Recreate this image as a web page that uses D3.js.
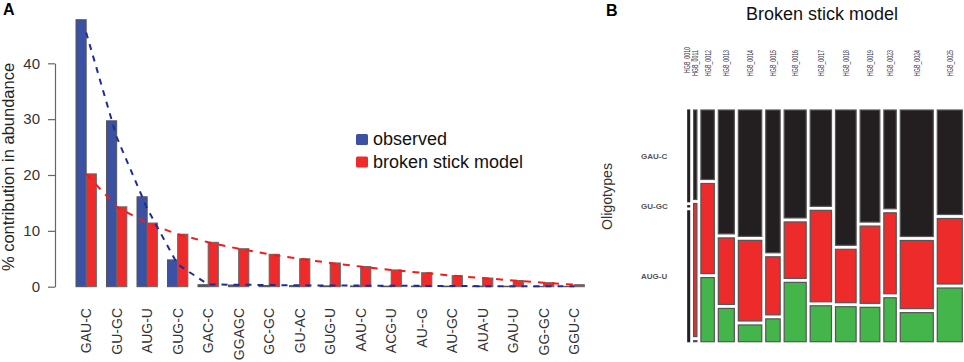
<!DOCTYPE html>
<html lang="en">
<head>
<meta charset="utf-8">
<title>Broken stick model</title>
<script src="https://cdn.jsdelivr.net/npm/d3@7"></script>
<style>
  body { margin: 0; background: #fff; }
  svg { display: block; font-family: "Liberation Sans", Arial, sans-serif; }
</style>
</head>
<body>
<script>
// ---- panel A data ----
var categories = ["GAU-C", "GU-GC", "AUG-U", "GUG-C", "GAC-C", "GGAGC", "GC-GC", "GU-AC", "GUG-U",
                  "AAU-C", "ACG-U", "AU--G", "AU-GC", "AUA-U", "GAU-U", "GG-GC", "GGU-C"];
var observed = [47.8, 29.7, 16.1, 4.8, 0.35, 0.3, 0.2, 0.2, 0.15, 0.12, 0.1, 0.1, 0.1, 0.1, 0.08, 0.06, 0.05];
var brokenStick = [20.2, 14.3, 11.4, 9.4, 7.95, 6.8, 5.8, 5.0, 4.25, 3.6, 3.0, 2.5, 1.98, 1.55, 1.12, 0.72, 0.36];
var observedTrend = [45.5, 26.8, 14.0, 4.0, 0.4, 0.35, 0.3, 0.25, 0.2, 0.2, 0.15, 0.15, 0.12, 0.1, 0.1, 0.1, 0.1];
var yTicks = [0, 10, 20, 30, 40];
var seriesNames = ["observed", "broken stick model"];

// ---- panel B data ----
var samples = ["HGB_0010", "HGB_0011", "HGB_0012", "HGB_0013", "HGB_0014", "HGB_0015", "HGB_0016",
               "HGB_0017", "HGB_0018", "HGB_0019", "HGB_0023", "HGB_0024", "HGB_0025"];
var sampleSize = [1.8, 3.3, 13.4, 16, 23.4, 14.4, 22, 21.3, 20.6, 19.7, 12.4, 33, 25];
var oligotypes = ["GAU-C", "GU-GC", "AUG-U"];
var shareGAUC = [0.41, 0.40, 0.31, 0.551, 0.566, 0.644, 0.484, 0.432, 0.603, 0.502, 0.443, 0.566, 0.469];
var shareGUGC = [0.005, 0.595, 0.402, 0.296, 0.361, 0.262, 0.253, 0.41, 0.238, 0.346, 0.363, 0.305, 0.294];
var shareAUGU = [0.585, 0.005, 0.286, 0.148, 0.075, 0.103, 0.266, 0.161, 0.156, 0.154, 0.197, 0.13, 0.241];

var w = 964, h = 362;
var blue = "#3b51a3", red = "#ee2a2a";

var svg = d3.select("body").append("svg")
  .attr("width", w)
  .attr("height", h);

// ================= panel A =================
var yScale = d3.scaleLinear().domain([0, 40]).range([286.7, 63.3]);

var xGroup = d3.scaleBand()
  .domain(categories)
  .range([76, 76 + 17 * 30.5 - 10.17])
  .paddingInner(1 / 3)
  .paddingOuter(0);

var xSeries = d3.scaleBand()
  .domain(seriesNames)
  .range([0, xGroup.bandwidth()]);

var mid = function(c) { return xGroup(c) + xGroup.bandwidth() / 2; };

svg.append("text")
  .attr("x", 3).attr("y", 15)
  .attr("font-size", 16).attr("font-weight", "bold")
  .text("A");

// y axis
var yAxis = d3.axisLeft(yScale).tickValues(yTicks).tickSize(7).tickSizeOuter(0).tickPadding(8);
var gy = svg.append("g")
  .attr("transform", "translate(55,0)")
  .call(yAxis);
gy.select(".domain").attr("stroke", "#666").attr("stroke-width", 1.2);
gy.selectAll(".tick line").attr("stroke", "#666").attr("stroke-width", 1.2);
gy.selectAll(".tick text").attr("font-size", 15).attr("fill", "#333")
  .attr("font-family", "Liberation Sans, Arial, sans-serif");

svg.append("text")
  .attr("transform", "translate(14,167) rotate(-90)")
  .attr("text-anchor", "middle")
  .attr("font-size", 16.5)
  .attr("fill", "#222")
  .text("% contribution in abundance");

// bars
var groups = svg.selectAll("g.grp")
  .data(categories)
  .enter()
  .append("g")
  .attr("class", "grp")
  .attr("transform", function(c) { return "translate(" + xGroup(c) + ",0)"; });

groups.append("rect")
  .attr("x", xSeries("observed"))
  .attr("width", xSeries.bandwidth())
  .attr("y", function(c, i) { return yScale(observed[i]); })
  .attr("height", function(c, i) { return yScale(0) - yScale(observed[i]); })
  .attr("fill", blue)
  .attr("stroke", "#555").attr("stroke-width", 1);

groups.append("rect")
  .attr("x", xSeries("broken stick model"))
  .attr("width", xSeries.bandwidth())
  .attr("y", function(c, i) { return yScale(brokenStick[i]); })
  .attr("height", function(c, i) { return yScale(0) - yScale(brokenStick[i]); })
  .attr("fill", red)
  .attr("stroke", "#666").attr("stroke-width", 1);

// dashed lines
var line = function(vals) {
  return d3.line()
    .x(function(d, i) { return mid(categories[i]); })
    .y(function(d) { return yScale(d); })(vals);
};
svg.append("path")
  .attr("d", line(brokenStick))
  .attr("fill", "none").attr("stroke", "#f01c1c")
  .attr("stroke-width", 2).attr("stroke-dasharray", "7,7");
svg.append("path")
  .attr("d", line(observedTrend))
  .attr("fill", "none").attr("stroke", "#1f2d98")
  .attr("stroke-width", 2).attr("stroke-dasharray", "6,6");

// x labels
svg.selectAll("text.xlab")
  .data(categories)
  .enter()
  .append("text")
  .attr("class", "xlab")
  .attr("transform", function(c) { return "translate(" + mid(c) + ",308) rotate(-90)"; })
  .attr("text-anchor", "end")
  .attr("dy", "0.35em")
  .attr("font-size", 14)
  .attr("fill", "#333")
  .text(function(c) { return c; });

// legend
var legend = svg.selectAll("g.leg")
  .data(seriesNames)
  .enter()
  .append("g")
  .attr("class", "leg")
  .attr("transform", function(d, i) { return "translate(356," + (134 + i * 22.5) + ")"; });
legend.append("rect")
  .attr("width", 12).attr("height", 11).attr("rx", 1.5)
  .attr("fill", function(d, i) { return i === 0 ? blue : red; });
legend.append("text")
  .attr("x", 17).attr("y", 11)
  .attr("font-size", 18)
  .attr("fill", "#111")
  .text(function(d) { return d; });

// ================= panel B =================
svg.append("text")
  .attr("x", 606).attr("y", 16)
  .attr("font-size", 16).attr("font-weight", "bold")
  .text("B");

svg.append("text")
  .attr("x", 822).attr("y", 20)
  .attr("text-anchor", "middle")
  .attr("font-size", 18)
  .attr("fill", "#111")
  .text("Broken stick model");

svg.append("text")
  .attr("transform", "translate(612,196.5) rotate(-90)")
  .attr("text-anchor", "middle")
  .attr("font-size", 14.2)
  .attr("fill", "#333")
  .text("Oligotypes");

var gap = 4;
var shares = [shareGAUC, shareGUGC, shareAUGU];
var cellColors = ["#231f20", "#ee2b2b", "#44b54a"];
var totalSize = d3.sum(sampleSize);
var cumSize = [0].concat(Array.from(d3.cumsum(sampleSize)));

var mx = d3.scaleLinear().domain([0, totalSize]).range([687.8, 962.3 - gap * (samples.length - 1)]);
var my = d3.scaleLinear().domain([0, 1]).range([110, 341.7 - gap * (oligotypes.length - 1)]);

var cells = [];
samples.forEach(function(s, i) {
  var tot = shares[0][i] + shares[1][i] + shares[2][i];
  var acc = 0;
  oligotypes.forEach(function(o, j) {
    var f = shares[j][i] / tot;
    cells.push({
      sample: i, row: j,
      x0: mx(cumSize[i]) + i * gap,
      x1: mx(cumSize[i + 1]) + i * gap,
      y0: my(acc) + j * gap,
      y1: my(acc + f) + j * gap
    });
    acc += f;
  });
});

// very thin columns only show their outline
var thin = function(d) { return d.x1 - d.x0 < 2; };

svg.selectAll("rect.cell")
  .data(cells)
  .enter()
  .append("rect")
  .attr("class", "cell")
  .attr("x", function(d) { return d.x0; })
  .attr("y", function(d) { return d.y0; })
  .attr("width", function(d) { return Math.max(0.5, d.x1 - d.x0); })
  .attr("height", function(d) { return Math.max(0.5, d.y1 - d.y0); })
  .attr("fill", function(d) { return thin(d) ? "#222" : cellColors[d.row]; })
  .attr("stroke", function(d) { return thin(d) ? "#222" : "#555"; })
  .attr("stroke-width", 1.2);

// sample labels
svg.selectAll("text.slab")
  .data(samples)
  .enter()
  .append("text")
  .attr("class", "slab")
  .attr("transform", function(s, i) {
    var cx = (mx(cumSize[i]) + mx(cumSize[i + 1])) / 2 + i * gap + (i === 0 ? -1.5 : 0);
    return "translate(" + cx + "," + (i === 0 ? 73 : 76) + ") rotate(-90)";
  })
  .attr("dy", "0.35em")
  .attr("font-size", 9)
  .attr("textLength", 26)
  .attr("lengthAdjust", "spacingAndGlyphs")
  .attr("fill", "#3e3550")
  .text(function(s) { return s; });

// oligotype labels, placed at the first column's cells
var firstCol = cells.filter(function(c) { return c.sample === 0; });
svg.selectAll("text.olab")
  .data(firstCol)
  .enter()
  .append("text")
  .attr("class", "olab")
  .attr("x", 641)
  .attr("y", function(d) { return (d.y0 + d.y1) / 2; })
  .attr("dy", "0.35em")
  .attr("font-size", 8)
  .attr("font-weight", "bold")
  .attr("fill", "#555")
  .text(function(d) { return oligotypes[d.row]; });
</script>
</body>
</html>
